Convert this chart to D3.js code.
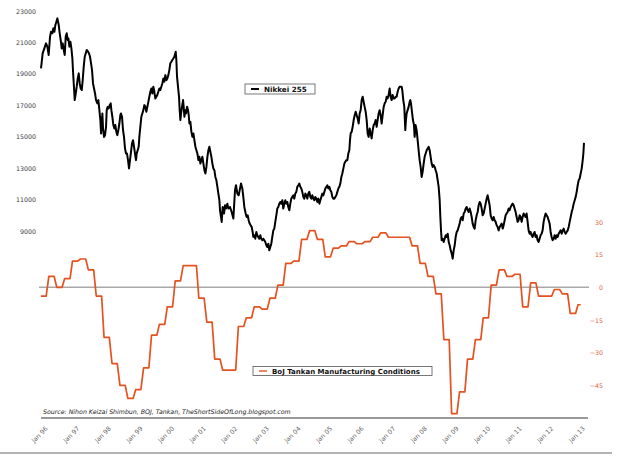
<!DOCTYPE html>
<html><head><meta charset="utf-8">
<script src="https://cdn.jsdelivr.net/npm/d3@7"></script>
<style>body{margin:0;background:#fff}svg{display:block}</style>
</head><body>
<svg id="c" width="618" height="460"></svg>
<script>
// ---------- DATA ----------
const leftTicks = [9000, 11000, 13000, 15000, 17000, 19000, 21000, 23000];
const rightTicks = [30, 15, 0, -15, -30, -45];
const xTickLabels = ["Jan 96","Jan 97","Jan 98","Jan 99","Jan 00","Jan 01","Jan 02","Jan 03","Jan 04","Jan 05","Jan 06","Jan 07","Jan 08","Jan 09","Jan 10","Jan 11","Jan 12","Jan 13"];
const seriesNames = ["Nikkei 255", "BoJ Tankan Manufacturing Conditions"];
const sourceText = "Source: Nihon Keizai Shimbun, BOJ, Tankan, TheShortSideOfLong.blogspot.com";

// BoJ Tankan, quarterly survey values starting March 1996 (Mar, Jun, Sep, Dec)
const tankanFirstQuarter = [1996, 2]; // year, month index (March)
const tankan = [
  -4, 5, 0, 4,
  12, 13, 8, -4,
  -23, -35, -45, -51,
  -47, -37, -22, -17,
  -9, 3, 10, 10,
  -5, -16, -33, -38,
  -38, -18, -14, -9,
  -10, -5, 1, 11,
  12, 22, 26, 22,
  14, 18, 19, 21,
  20, 21, 23, 25,
  23, 23, 23, 19,
  11, 5, -3, -24,
  -58, -48, -33, -24,
  -14, 1, 8, 5,
  6, -9, 2, -4,
  -4, -1, -3, -12,
  -8
];

// Nikkei: [decimal year, index level]
const nikkei = [
[1996.168,19350],[1996.220,20300],[1996.273,20620],[1996.326,20940],[1996.368,20730],[1996.410,20200],
[1996.453,21370],[1996.484,21680],[1996.527,21580],[1996.558,21900],[1996.590,21680],[1996.621,22110],
[1996.653,22320],[1996.685,22530],[1996.727,22110],[1996.758,21580],[1996.790,21150],[1996.822,20620],
[1996.853,20940],[1996.885,20520],[1996.917,20200],[1996.948,21370],[1996.980,21580],[1997.012,21150],
[1997.033,21260],[1997.064,20730],[1997.096,21050],[1997.128,20620],[1997.159,19980],[1997.180,19130],
[1997.212,18070],[1997.233,17330],[1997.265,17750],[1997.296,18180],[1997.328,18710],[1997.360,19030],
[1997.391,18390],[1997.423,18070],[1997.455,17970],[1997.486,18600],[1997.518,19450],[1997.550,20090],
[1997.581,20300],[1997.613,20520],[1997.655,20410],[1997.687,20300],[1997.718,20090],[1997.750,19670],
[1997.782,19240],[1997.813,18390],[1997.845,18070],[1997.877,17750],[1997.908,17330],[1997.950,17120],
[1997.982,17330],[1998.014,16690],[1998.045,16060],[1998.067,15210],[1998.088,15840],[1998.109,16480],
[1998.130,15520],[1998.161,14990],[1998.193,15100],[1998.225,15630],[1998.246,16690],[1998.277,16900],
[1998.309,16800],[1998.341,17010],[1998.373,17120],[1998.394,16690],[1998.425,16270],[1998.457,15740],
[1998.489,15520],[1998.520,15740],[1998.552,15310],[1998.584,15100],[1998.615,15420],[1998.647,15840],
[1998.678,16370],[1998.699,16480],[1998.731,16270],[1998.763,15420],[1998.794,14990],[1998.826,14250],
[1998.858,13930],[1998.889,13930],[1998.921,13510],[1998.953,12980],[1998.984,13510],[1999.016,14040],
[1999.047,14570],[1999.079,14780],[1999.111,14360],[1999.142,13930],[1999.174,13510],[1999.195,13930],
[1999.227,14140],[1999.259,14360],[1999.280,14990],[1999.311,15630],[1999.343,16270],[1999.375,16480],
[1999.406,16690],[1999.438,17010],[1999.470,16900],[1999.501,16590],[1999.533,16900],[1999.565,17220],
[1999.596,17540],[1999.628,17860],[1999.660,18070],[1999.691,17750],[1999.723,18180],[1999.755,17860],
[1999.786,17430],[1999.818,17540],[1999.849,17650],[1999.881,17860],[1999.913,18070],[1999.944,17970],
[1999.976,18180],[2000.008,18390],[2000.040,18710],[2000.071,18500],[2000.103,18920],[2000.134,18600],
[2000.166,18710],[2000.198,18920],[2000.229,19240],[2000.261,19670],[2000.292,19770],[2000.324,19880],
[2000.356,19980],[2000.387,20090],[2000.430,20410],[2000.451,19880],[2000.472,18820],[2000.493,18390],
[2000.514,17970],[2000.535,17540],[2000.556,16690],[2000.577,16060],[2000.599,16480],[2000.630,16900],
[2000.662,17330],[2000.683,16900],[2000.704,16270],[2000.736,16690],[2000.757,16480],[2000.789,16900],
[2000.820,16690],[2000.841,16370],[2000.863,15840],[2000.894,15950],[2000.926,15310],[2000.958,14990],
[2000.989,15210],[2001.021,14780],[2001.053,14360],[2001.084,14140],[2001.116,13930],[2001.148,13510],
[2001.179,13720],[2001.211,13290],[2001.242,13510],[2001.274,13720],[2001.306,13290],[2001.337,12870],
[2001.369,12660],[2001.401,13080],[2001.432,13720],[2001.464,14140],[2001.495,14360],[2001.527,14040],
[2001.559,13720],[2001.590,13290],[2001.622,12980],[2001.654,12870],[2001.685,12440],[2001.717,12230],
[2001.749,11810],[2001.780,11380],[2001.812,10960],[2001.832,10320],[2001.885,9580],[2001.916,10530],
[2001.959,10110],[2001.990,10640],[2002.022,10430],[2002.064,10740],[2002.096,10430],[2002.148,10530],
[2002.201,10210],[2002.254,9790],[2002.307,11590],[2002.338,11910],[2002.381,11380],[2002.423,11270],
[2002.465,11700],[2002.497,12020],[2002.539,11700],[2002.570,11170],[2002.602,10530],[2002.644,10110],
[2002.676,9890],[2002.708,10000],[2002.739,9680],[2002.771,9470],[2002.802,9360],[2002.834,9260],
[2002.866,8940],[2002.887,8620],[2002.919,8730],[2002.950,8510],[2002.982,8940],[2003.013,8730],
[2003.045,8620],[2003.077,8510],[2003.108,8730],[2003.140,8510],[2003.172,8410],[2003.203,8510],
[2003.235,8410],[2003.267,8300],[2003.298,8090],[2003.330,7980],[2003.362,8190],[2003.393,7770],
[2003.425,7980],[2003.456,8190],[2003.488,8620],[2003.520,9040],[2003.551,9150],[2003.583,9580],
[2003.615,10000],[2003.646,10430],[2003.678,10530],[2003.710,10740],[2003.741,10850],[2003.773,10740],
[2003.805,10960],[2003.836,10430],[2003.868,10740],[2003.899,10960],[2003.931,10740],[2003.963,10850],
[2003.994,10530],[2004.026,10320],[2004.058,10740],[2004.089,11060],[2004.121,11170],[2004.153,11270],
[2004.184,11060],[2004.216,11380],[2004.248,11490],[2004.279,11810],[2004.311,11910],[2004.343,12020],
[2004.374,11810],[2004.406,11700],[2004.437,11490],[2004.469,11170],[2004.501,11060],[2004.532,11380],
[2004.564,11270],[2004.596,11060],[2004.627,11380],[2004.659,11490],[2004.691,11170],[2004.722,11060],
[2004.754,11270],[2004.786,11060],[2004.817,10960],[2004.849,11170],[2004.881,11060],[2004.912,10850],
[2004.944,11060],[2004.976,10740],[2005.007,10960],[2005.039,11170],[2005.070,11380],[2005.102,11270],
[2005.134,11490],[2005.165,11700],[2005.197,11810],[2005.229,11910],[2005.260,11700],[2005.292,11810],
[2005.324,11590],[2005.355,11490],[2005.387,11170],[2005.419,11060],[2005.450,11060],[2005.482,11170],
[2005.514,11270],[2005.545,11490],[2005.577,11700],[2005.608,11810],[2005.640,12020],[2005.672,12440],
[2005.703,12660],[2005.735,12970],[2005.767,13290],[2005.798,13400],[2005.830,13510],[2005.862,13510],
[2005.893,13930],[2005.925,14140],[2005.946,14780],[2005.967,15210],[2005.999,15310],[2006.031,15630],
[2006.062,16060],[2006.094,16370],[2006.126,16590],[2006.157,16370],[2006.189,16160],[2006.221,15840],
[2006.252,16480],[2006.284,16690],[2006.316,17330],[2006.347,17540],[2006.379,17220],[2006.410,16900],
[2006.442,16590],[2006.474,16060],[2006.505,15210],[2006.537,14990],[2006.569,15520],[2006.600,15210],
[2006.632,14890],[2006.664,15420],[2006.695,15740],[2006.727,15840],[2006.759,16060],[2006.790,15630],
[2006.822,16060],[2006.853,16480],[2006.885,16690],[2006.917,16370],[2006.948,15840],[2006.980,16370],
[2007.012,16900],[2007.043,17120],[2007.075,17220],[2007.107,17540],[2007.138,17430],[2007.170,17650],
[2007.202,18070],[2007.233,17540],[2007.265,17330],[2007.297,17650],[2007.328,17430],[2007.360,17430],
[2007.392,17540],[2007.423,17540],[2007.455,17860],[2007.487,18070],[2007.518,18180],[2007.550,18180],
[2007.581,18180],[2007.602,17970],[2007.634,17330],[2007.666,16900],[2007.697,15420],[2007.718,16060],
[2007.740,16480],[2007.771,16690],[2007.803,16900],[2007.835,17220],[2007.856,17330],[2007.877,17120],
[2007.908,16590],[2007.940,16060],[2007.972,15740],[2007.993,14990],[2008.024,15740],[2008.056,15420],
[2008.088,14780],[2008.119,14140],[2008.151,13510],[2008.183,13080],[2008.214,12440],[2008.246,12760],
[2008.278,13290],[2008.309,13720],[2008.341,13930],[2008.373,14140],[2008.404,14250],[2008.436,14360],
[2008.467,14140],[2008.499,13720],[2008.531,13290],[2008.562,13080],[2008.594,13190],[2008.626,13080],
[2008.657,12870],[2008.689,12660],[2008.721,12230],[2008.752,11810],[2008.784,10960],[2008.805,9900],
[2008.826,9050],[2008.847,8410],[2008.879,8510],[2008.910,8300],[2008.942,8510],[2008.974,8730],
[2009.005,8620],[2009.037,8830],[2009.069,8300],[2009.100,8090],[2009.132,7770],[2009.164,7560],
[2009.195,7240],[2009.227,7770],[2009.259,8090],[2009.290,8620],[2009.322,8940],[2009.353,9040],
[2009.385,9260],[2009.417,9470],[2009.448,9790],[2009.480,9890],[2009.512,9680],[2009.543,10110],
[2009.575,10210],[2009.607,10430],[2009.638,10530],[2009.670,10320],[2009.702,10210],[2009.733,10430],
[2009.765,10210],[2009.797,9890],[2009.828,9470],[2009.860,9260],[2009.891,9150],[2009.923,9680],
[2009.955,10000],[2009.986,10210],[2010.018,10640],[2010.050,10850],[2010.081,10740],[2010.113,10430],
[2010.145,10000],[2010.176,10110],[2010.208,10430],[2010.240,10740],[2010.271,11060],[2010.303,11270],
[2010.334,10960],[2010.366,10640],[2010.398,10000],[2010.429,9790],[2010.461,9680],[2010.493,9890],
[2010.524,9680],[2010.556,9580],[2010.588,9360],[2010.619,9260],[2010.651,9040],[2010.683,9260],
[2010.714,9360],[2010.746,9470],[2010.778,9150],[2010.809,9360],[2010.841,9680],[2010.873,10000],
[2010.904,10110],[2010.936,10210],[2010.967,10430],[2010.999,10320],[2011.031,10530],[2011.062,10640],
[2011.094,10740],[2011.126,10640],[2011.157,10430],[2011.189,10210],[2011.221,9890],[2011.252,9580],
[2011.284,9680],[2011.316,10000],[2011.347,9890],[2011.379,9580],[2011.410,9890],[2011.442,10110],
[2011.474,10000],[2011.505,9890],[2011.537,10110],[2011.569,9580],[2011.600,9040],[2011.632,8830],
[2011.664,8940],[2011.695,8730],[2011.727,8620],[2011.759,8830],[2011.790,8940],[2011.822,8620],
[2011.853,8730],[2011.885,8410],[2011.917,8300],[2011.948,8510],[2011.980,8730],[2012.012,8830],
[2012.043,9040],[2012.075,9580],[2012.107,9890],[2012.138,10110],[2012.170,10000],[2012.202,9890],
[2012.233,9680],[2012.265,9470],[2012.297,8940],[2012.328,8620],[2012.360,8410],[2012.392,8510],
[2012.423,8730],[2012.455,8510],[2012.487,8730],[2012.518,8620],[2012.550,8830],[2012.582,8940],
[2012.613,9040],[2012.645,8830],[2012.677,9040],[2012.708,9150],[2012.740,8940],[2012.772,8830],
[2012.803,8940],[2012.835,9040],[2012.867,9260],[2012.898,9580],[2012.930,9890],[2012.962,10210],
[2012.993,10430],[2013.025,10740],[2013.057,10960],[2013.088,11170],[2013.120,11490],[2013.152,11910],
[2013.183,12230],[2013.215,12340],[2013.246,12660],[2013.278,12970],[2013.310,13500],[2013.330,13900],
[2013.341,14250],[2013.351,14610]
];

// ---------- DRAW ----------
const svg = d3.select("#c");
const FONT = "DejaVu Sans, sans-serif";
const decYear = v => { const yr = Math.floor(v); const a = new Date(yr,0,1), b = new Date(yr+1,0,1); return new Date(a.getTime() + (v-yr)*(b-a)); };

const x = d3.scaleTime().domain([new Date(1996,0,1), new Date(2013,0,1)]).range([35.7, 572.9]);
const yL = d3.scaleLinear().domain([9000, 23000]).range([231, 11]);
const yR = d3.scaleLinear().domain([-45, 30]).range([385.3, 222]);

// bottom gray rule
svg.append("line").attr("x1",0).attr("x2",612).attr("y1",453).attr("y2",453)
  .attr("stroke","#9a9a9a").attr("stroke-width",1.6);

// zero line
svg.append("line").attr("x1",39).attr("x2",589).attr("y1",yR(0)).attr("y2",yR(0))
  .attr("stroke","#a8a8a8").attr("stroke-width",1.5);

// left axis
const gL = svg.append("g").attr("transform","translate(36,0)")
  .call(d3.axisLeft(yL).tickValues(leftTicks).tickSize(0).tickPadding(0).tickFormat(d3.format("d")));
gL.select(".domain").remove();
gL.selectAll("text").attr("font-family",FONT).attr("font-size",6.3).attr("fill","#3a3a3a");

// right axis
const gR = svg.append("g").attr("transform","translate(603,0)")
  .call(d3.axisLeft(yR).tickValues(rightTicks).tickSize(0).tickPadding(0).tickFormat(d3.format("d")));
gR.select(".domain").remove();
gR.selectAll("text").attr("font-family",FONT).attr("font-size",6.3).attr("fill","#d9643f");

// x axis line
svg.append("line").attr("x1",41).attr("x2",588).attr("y1",418).attr("y2",418)
  .attr("stroke","#333").attr("stroke-width",1.2);

// x axis labels
const gX = svg.append("g").attr("transform","translate(0,418)")
  .call(d3.axisBottom(x).ticks(d3.timeYear.every(1)).tickSize(0).tickFormat((d,i)=>xTickLabels[i]));
gX.select(".domain").remove();
gX.selectAll("text").attr("y",0).attr("dy",0)
  .attr("transform","translate(12,11) rotate(-45)")
  .style("text-anchor","end")
  .attr("font-family",FONT).attr("font-size",6.3).attr("fill","#666");

// Tankan step line (value held for the quarter's months)
const tk = [];
tankan.forEach((v,i) => {
  const m = tankanFirstQuarter[1] + 3*i;
  tk.push([new Date(tankanFirstQuarter[0], m, 1), v]);
  tk.push([new Date(tankanFirstQuarter[0], m + (i === tankan.length-1 ? 1 : 2), 1), v]);
});
svg.append("path").datum(tk)
  .attr("fill","none").attr("stroke","#e5511f").attr("stroke-width",1.7).attr("stroke-linejoin","round")
  .attr("d", d3.line().x(d=>x(d[0])).y(d=>yR(d[1])));

// Nikkei line
svg.append("path").datum(nikkei)
  .attr("fill","none").attr("stroke","#000").attr("stroke-width",2).attr("stroke-linejoin","round")
  .attr("d", d3.line().x(d=>x(decYear(d[0]))).y(d=>yL(d[1])));

// source text
svg.append("text").attr("x",43).attr("y",414).text(sourceText)
  .attr("font-family",FONT).attr("font-size",6.25).attr("font-style","italic").attr("fill","#222");

// legends
function legend(x0, y0, w, h, color, label, fs) {
  const g = svg.append("g");
  g.append("rect").attr("x",x0).attr("y",y0).attr("width",w).attr("height",h)
    .attr("fill","#fff").attr("stroke","#555").attr("stroke-width",0.8);
  g.append("line").attr("x1",x0+6).attr("x2",x0+14).attr("y1",y0+h/2).attr("y2",y0+h/2)
    .attr("stroke",color).attr("stroke-width",color==="#000"?2:1.4);
  g.append("text").attr("x",x0+19).attr("y",y0+h/2).attr("dy","0.36em").text(label)
    .attr("font-family",FONT).attr("font-weight","bold").attr("font-size",fs).attr("fill","#111");
}
legend(245, 84, 70, 10, "#000", seriesNames[0], 7.2);
legend(253, 366.5, 179, 9, "#e5511f", seriesNames[1], 7.0);
</script>
</body></html>
